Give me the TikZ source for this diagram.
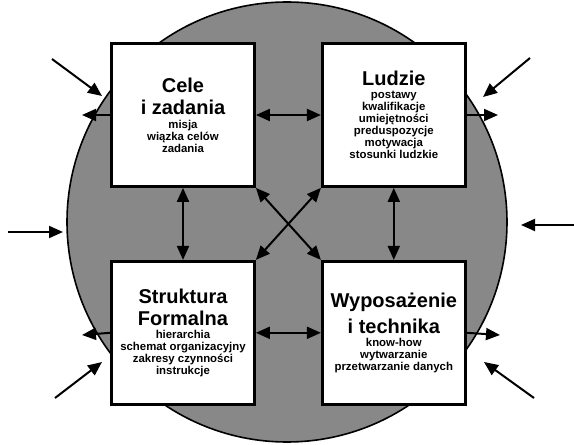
\documentclass[tikz,border=0pt]{standalone}
\usepackage{fontspec}
\setmainfont{Liberation Sans}
\usetikzlibrary{arrows.meta,positioning}

\definecolor{disc}{RGB}{136,136,136}
\newcommand{\ttl}{\fontsize{20}{22}\selectfont}
\newcommand{\sml}{\fontsize{11.4}{12.8}\selectfont}

\begin{document}
\begin{tikzpicture}[
  x=1pt,y=1pt,
  node distance=72pt and 65pt,
  box/.style={draw,line width=2.8pt,fill=white,minimum size=143pt,align=center,inner sep=2pt,font=\bfseries},
  arr/.style={-{Triangle[length=14pt,width=12pt]},line width=2pt},
  dbl/.style={{Triangle[length=14pt,width=12pt]}-{Triangle[length=14pt,width=12pt]},line width=2pt}
]
\useasboundingbox (0,0) rectangle (574,445);
% background disc
\node[circle,draw,line width=1.6pt,fill=disc,minimum size=440pt,inner sep=0pt] (org) at (287,223) {};

% the four boxes
\node[box] (cele) at (183,330) {\ttl Cele\\[6pt]\ttl i zadania\\[2pt]\sml misja\\\sml wiązka celów\\\sml zadania};
\node[box, right=of cele] (ludzie) {\ttl Ludzie\\[1pt]\sml postawy\\\sml kwalifikacje\\\sml umiejętności\\\sml preduspozycje\\\sml motywacja\\\sml stosunki ludzkie};
\node[box, below=of cele] (struktura) {\ttl Struktura\\[6pt]\ttl Formalna\\[1pt]\sml hierarchia\\\sml schemat organizacyjny\\\sml zakresy czynności\\\sml instrukcje};
\node[box, right=of struktura] (wypos) {\ttl Wyposażenie\\[6pt]\ttl i technika\\[1pt]\sml know-how\\\sml wytwarzanie\\\sml przetwarzanie danych};

% links inside the disc
\draw[dbl] (cele) -- (ludzie);
\draw[dbl] (struktura) -- (wypos);
\draw[dbl] (cele) -- (struktura);
\draw[dbl] (ludzie) -- (wypos);
\draw[dbl] (cele.south east) -- (wypos.north west);
\draw[dbl] (ludzie.south west) -- (struktura.north east);

% outer ends
\coordinate (nwA) at (52,386);  \coordinate (nwB) at (102,349);
\coordinate (wA) at (8,213);    \coordinate (wB) at (63,213);
\coordinate (swA) at (55,47);   \coordinate (swB) at (102,83);
\coordinate (neA) at (530,387); \coordinate (neB) at (483,348);
\coordinate (eA) at (574,220);  \coordinate (eB) at (521,220);
\coordinate (seA) at (534,47);  \coordinate (seB) at (484,83);
\coordinate (outCele) at (82,330);
\coordinate (outStr) at (82,110);
\coordinate (outLud) at (498,330);
\coordinate (outWyp) at (500,110);

% inputs from the environment
\draw[arr] (nwA) -- (nwB);
\draw[arr] (wA) -- (wB);
\draw[arr] (swA) -- (swB);
\draw[arr] (neA) -- (neB);
\draw[arr] (eA) -- (eB);
\draw[arr] (seA) -- (seB);

% outputs
\draw[arr] (cele.west) -- (outCele);
\draw[arr] (struktura.west) -- (outStr);
\draw[arr] (ludzie.east) -- (outLud);
\draw[arr] (wypos.east) -- (outWyp);
\end{tikzpicture}
\end{document}
